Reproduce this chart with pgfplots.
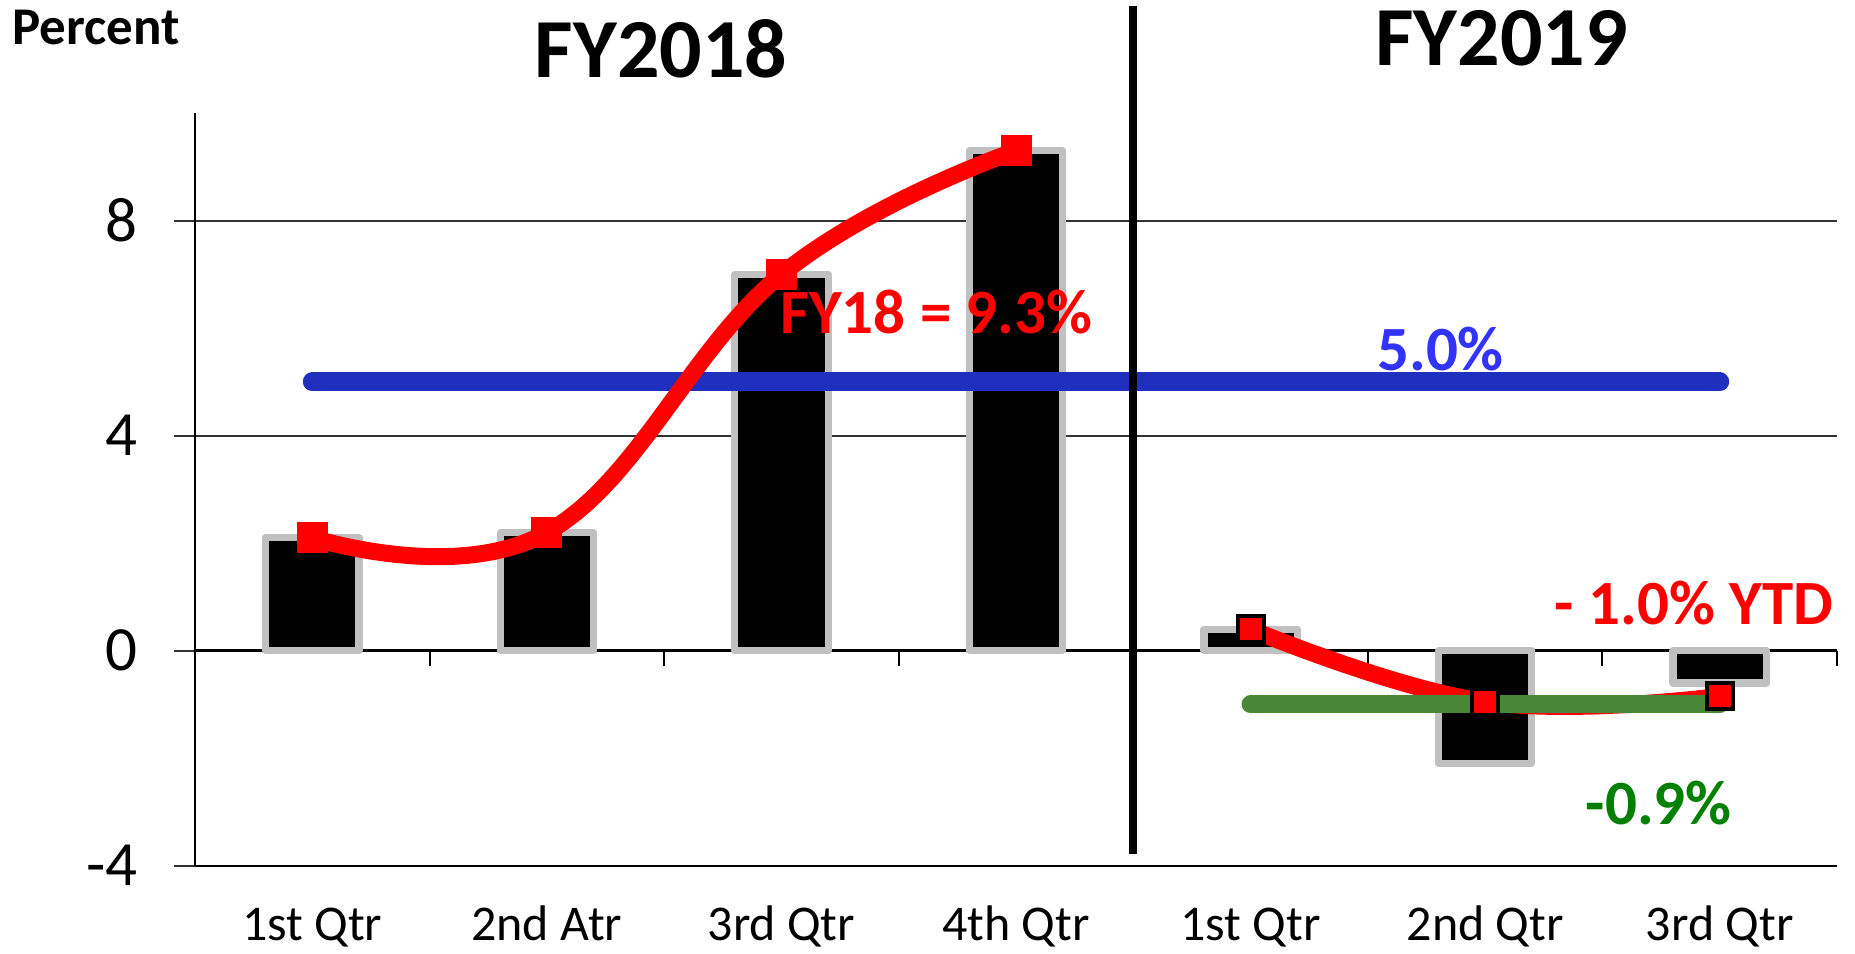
\documentclass[border=0pt]{standalone}
\usepackage{pgfplots}
\pgfplotsset{compat=1.18}
\usepackage{fontspec}
\setmainfont{Carlito}
\definecolor{barGray}{RGB}{192,192,192}
\definecolor{lineBlue}{RGB}{31,48,190}
\definecolor{txtBlue}{RGB}{51,51,255}
\definecolor{lineGreen}{RGB}{74,134,55}
\definecolor{txtGreen}{RGB}{0,128,0}
\definecolor{gridGray}{RGB}{50,50,50}
\begin{document}
\begin{tikzpicture}
\path[use as bounding box] (0,0) rectangle (927.5pt,476.5pt);
\begin{axis}[
 at={(97.5pt,43.65pt)}, anchor=south west,
 scale only axis, width=821pt, height=376.25pt,
 xmin=-0.5, xmax=6.5, ymin=-4, ymax=10,
 clip=false,
 axis x line*=bottom, axis y line*=left,
 axis line style={line width=1pt, black},
 xtick={0,...,6},
 xticklabels={1st Qtr, 2nd Atr, 3rd Qtr, 4th Qtr, 1st Qtr, 2nd Qtr, 3rd Qtr},
 x tick style={draw=none},
 xticklabel style={font=\fontsize{25}{30}\selectfont, anchor=base, inner sep=0pt, yshift=-27pt},
 ytick={-4,0,4,8},
 tick align=outside,
 y tick style={line width=1pt, gridGray},
 major tick length=10.5pt,
 ymajorgrids, grid style={line width=1pt, gridGray},
 yticklabel style={font=\fontsize{31.5}{36}\selectfont, inner sep=0pt, xshift=-18pt},
 /pgf/number format/assume math mode=true,
]
% zero line and its tick marks
\draw[black, line width=1.3pt] (axis cs:-0.5,0) -- (axis cs:6.5,0);
\draw[black, line width=1pt] (axis cs:0.5,0) -- (axis cs:0.5,-0.28);
\draw[black, line width=1pt] (axis cs:1.5,0) -- (axis cs:1.5,-0.28);
\draw[black, line width=1pt] (axis cs:2.5,0) -- (axis cs:2.5,-0.28);
\draw[black, line width=1pt] (axis cs:3.5,0) -- (axis cs:3.5,-0.28);
\draw[black, line width=1pt] (axis cs:4.5,0) -- (axis cs:4.5,-0.28);
\draw[black, line width=1pt] (axis cs:5.5,0) -- (axis cs:5.5,-0.28);
\draw[black, line width=1pt] (axis cs:6.5,0) -- (axis cs:6.5,-0.28);
% bars
\addplot[ybar, bar width=0.398, bar shift=0pt, fill=black, draw=barGray, line width=3.6pt, line join=round]
 coordinates {(0,2.1) (1,2.2) (2,7.0) (3,9.3) (4,0.4) (5,-2.1) (6,-0.6)};
% 5.0% line
\addplot[lineBlue, line width=9.5pt, line cap=round] coordinates {(0,5) (6,5)};
% red lines
\addplot[red, line width=8.5pt, smooth, tension=0.7, mark=square*, mark size=7.5pt,
 mark options={fill=red, draw=red, line width=0.5pt}]
 coordinates {(0,2.1) (1,2.2) (2,7.0) (3,9.3)};
\addplot[red, line width=8.5pt, smooth, tension=0.7, mark=square*, mark size=6.5pt,
 mark options={fill=red, draw=black, line width=2pt}]
 coordinates {(4,0.4) (5,-0.95) (6,-0.85)};
% green line
\addplot[lineGreen, line width=9pt, line cap=round] coordinates {(4,-1) (6,-1)};
% divider
\addplot[black, line width=4pt] coordinates {(3.5,12) (3.5,-3.78)};
% texts
\node[anchor=base west, inner sep=0pt, font=\bfseries\fontsize{26.5}{32}\selectfont] at (axis cs:-1.28,11.27) {Percent};
\node[anchor=base, inner sep=0pt, font=\bfseries\fontsize{42}{50}\selectfont] at (axis cs:1.487,10.67) {FY2018};
\node[anchor=base, inner sep=0pt, font=\bfseries\fontsize{42}{50}\selectfont] at (axis cs:5.07,10.89) {FY2019};
\node[anchor=base, inner sep=0pt, text=red, font=\bfseries\fontsize{31.5}{36}\selectfont] at (axis cs:2.66,5.9) {FY18 = 9.3\%};
\node[anchor=base, inner sep=0pt, text=txtBlue, font=\bfseries\fontsize{31.5}{36}\selectfont] at (axis cs:4.81,5.22) {5.0\%};
\node[anchor=base, inner sep=0pt, text=red, font=\bfseries\fontsize{31.5}{36}\selectfont] at (axis cs:5.89,0.48) {- 1.0\% YTD};
\node[anchor=base, inner sep=0pt, text=txtGreen, font=\bfseries\fontsize{31.5}{36}\selectfont] at (axis cs:5.74,-3.24) {-0.9\%};
\end{axis}
\end{tikzpicture}
\end{document}
